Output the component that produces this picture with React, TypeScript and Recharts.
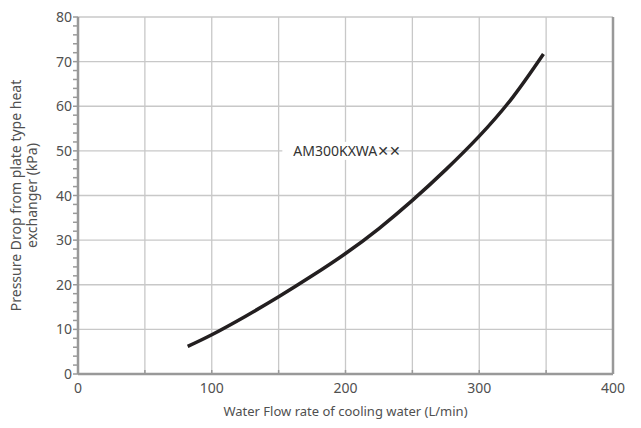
import React from 'react';
import { LineChart, Line, XAxis, YAxis, CartesianGrid, ReferenceDot } from 'recharts';

const flowRates = [82, 100, 125, 150, 175, 200, 225, 250, 275, 300, 325, 348];
const pressureDrops = [6.2, 8.8, 12.9, 17.3, 22.0, 27.0, 32.6, 38.9, 45.8, 53.3, 62.0, 71.7];

const xTicks = [0, 50, 100, 150, 200, 250, 300, 350, 400];
const xLabelTicks = [0, 100, 200, 300, 400];
const yMajorTicks = [0, 10, 20, 30, 40, 50, 60, 70, 80];
const yAllTicks = [0, 2, 4, 6, 8, 10, 12, 14, 16, 18, 20, 22, 24, 26, 28, 30, 32, 34, 36, 38, 40, 42, 44, 46, 48, 50, 52, 54, 56, 58, 60, 62, 64, 66, 68, 70, 72, 74, 76, 78, 80];

const modelLabel = 'AM300KXWA✕✕';
const modelLabelX = 161;
const modelLabelY = 50;
const xTitle = 'Water Flow rate of cooling water (L/min)';
const yTitleLines = ['Pressure Drop from plate type heat', 'exchanger (kPa)'];

const data = flowRates.map((q, i) => ({ q, p: pressureDrops[i] }));

const FONT = '"Noto Sans", "DejaVu Sans", sans-serif';
const TEXT = '#505050';
const AXIS = '#999';
const GRID = '#c8c8c8';

const LeftTick = (props: any) => {
  const { x, y, payload } = props;
  const v = payload.value;
  return (
    <g>
      <line x1={x - 5} x2={x} y1={y} y2={y} stroke={AXIS} strokeWidth={1.5} />
      {v % 10 === 0 && (
        <text x={x - 6} y={y} dy="0.36em" textAnchor="end" fontSize={14} fill={TEXT} fontFamily={FONT}>
          {v}
        </text>
      )}
    </g>
  );
};

const RightTick = (props: any) => {
  const { x, y, payload } = props;
  const v = payload.value;
  return (
    <g>
      <line x1={x} x2={x + 5} y1={y} y2={y} stroke={AXIS} strokeWidth={1.5} />
      {v % 10 === 0 && (
        <text x={x + 8} y={y} dy="0.36em" textAnchor="start" fontSize={14} fill={TEXT} fontFamily={FONT}>
          {v}
        </text>
      )}
    </g>
  );
};

const BottomTick = (props: any) => {
  const { x, y, payload } = props;
  const v = payload.value;
  return (
    <g>
      <line x1={x} x2={x} y1={y - 4} y2={y} stroke={AXIS} strokeWidth={1.5} />
      {xLabelTicks.includes(v) && (
        <text x={x} y={y + 19} textAnchor="middle" fontSize={14} fill={TEXT} fontFamily={FONT}>
          {v}
        </text>
      )}
    </g>
  );
};

const YTitle = (props: any) => {
  const vb = props.viewBox || { x: 0, y: 17, width: 0, height: 357 };
  const cy = vb.y + vb.height / 2;
  return (
    <g>
      {yTitleLines.map((t, i) => (
        <text
          key={i}
          x={0}
          y={0}
          transform={`translate(${21 + i * 16}, ${cy}) rotate(-90)`}
          textAnchor="middle"
          fontSize={14}
          fill={TEXT}
          fontFamily={FONT}
        >
          {t}
        </text>
      ))}
    </g>
  );
};

const XTitle = (props: any) => {
  const vb = props.viewBox || { x: 78, y: 374, width: 535, height: 54 };
  return (
    <text x={vb.x + vb.width / 2} y={416} textAnchor="middle" fontSize={13} fill={TEXT} fontFamily={FONT}>
      {xTitle}
    </text>
  );
};

const ModelLabel = (props: any) => {
  const { cx, cy } = props;
  return (
    <g>
      <rect x={cx - 11} y={cy - 9} width={100} height={18} fill="#fff" />
      <text x={cx} y={cy} dy="0.36em" fontSize={14} fill="#333" fontFamily={FONT}>
        {modelLabel}
      </text>
    </g>
  );
};

export default function App() {
  return (
    <div style={{ position: 'absolute', left: 0, top: 0, background: '#fff' }}>
      <LineChart width={641} height={428} data={data} margin={{ top: 17, right: 0, bottom: 0, left: 38 }}>
        <CartesianGrid
          stroke={GRID}
          strokeWidth={1.3}
          horizontalValues={yMajorTicks}
          verticalValues={xTicks}
        />
        <XAxis
          dataKey="q"
          type="number"
          domain={[0, 400]}
          ticks={xTicks}
          interval={0}
          tick={<BottomTick />}
          tickLine={false}
          tickSize={0}
          tickMargin={0}
          axisLine={{ stroke: AXIS, strokeWidth: 2.5 }}
          height={54}
          label={<XTitle />}
        />
        <XAxis
          xAxisId="top"
          orientation="top"
          dataKey="q"
          type="number"
          domain={[0, 400]}
          tick={false}
          tickLine={false}
          axisLine={{ stroke: AXIS, strokeWidth: 2.5 }}
          height={0}
        />
        <YAxis
          type="number"
          domain={[0, 80]}
          ticks={yAllTicks}
          interval={0}
          tick={<LeftTick />}
          tickLine={false}
          tickSize={0}
          tickMargin={0}
          axisLine={{ stroke: AXIS, strokeWidth: 2.5 }}
          width={40}
          label={<YTitle />}
        />
        <YAxis
          yAxisId="right"
          orientation="right"
          type="number"
          domain={[0, 80]}
          ticks={yAllTicks}
          interval={0}
          tick={<RightTick />}
          tickLine={false}
          tickSize={0}
          tickMargin={0}
          axisLine={{ stroke: AXIS, strokeWidth: 2.5 }}
          width={28}
        />
        <ReferenceDot
          x={modelLabelX}
          y={modelLabelY}
          r={0}
          shape={<ModelLabel />}
        />
        <Line
          type="natural"
          dataKey="p"
          stroke="#231f20"
          strokeWidth={3.5}
          dot={false}
          isAnimationActive={false}
        />
      </LineChart>
    </div>
  );
}
